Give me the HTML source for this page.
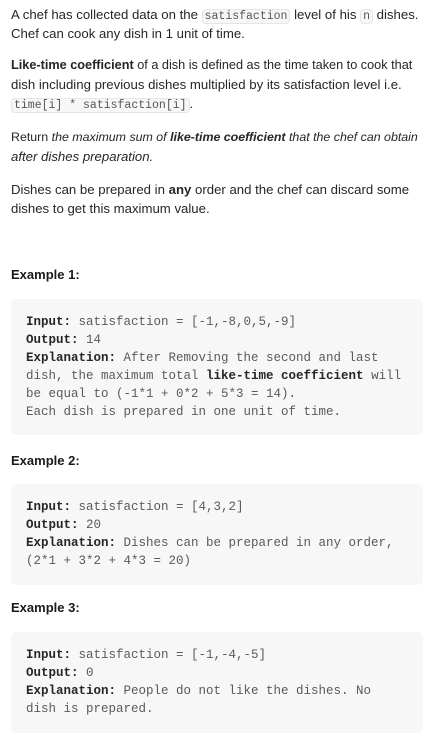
<!DOCTYPE html>
<html><head><meta charset="utf-8"><style>
body{margin:0;width:433px;height:737px;background:#fff;position:relative;overflow:hidden;font-family:"Liberation Sans",sans-serif;font-size:13.2px;color:#262626}
.t{position:absolute;left:11px;white-space:nowrap;line-height:19px}
code{font-family:"Liberation Mono",monospace;font-size:11.5px;background:#f7f7f8;border:1px solid #e5e5e5;border-radius:4px;padding:0 2px;color:#555}
.h{position:absolute;left:11px;font-weight:bold;font-size:13px;color:#1a1a1a}
.box{position:absolute;left:11px;width:412px;background:#f7f7f7;border-radius:6px}
.m{position:absolute;left:26px;font-family:"Liberation Mono",monospace;font-size:12.5px;line-height:18px;color:#5a5a5a;white-space:pre}
.m b{color:#262626}
</style></head><body>
<div class="t" style="top:5px">A chef has collected data on the <code>satisfaction</code> level of his <code>n</code> dishes.</div>
<div class="t" style="top:24px">Chef can cook any dish in 1 unit of time.</div>
<div class="t" style="top:56px;font-size:12.7px"><b>Like-time coefficient</b> of a dish is defined as the time taken to cook that</div>
<div class="t" style="top:75px">dish including previous dishes multiplied by its satisfaction level i.e.</div>
<div class="t" style="top:94px"><code>time[i] * satisfaction[i]</code>.</div>
<div class="t" style="top:128px;font-size:12.4px">Return <i>the maximum sum of <b>like-time coefficient</b> that the chef can obtain</i></div>
<div class="t" style="top:147px"><i>after dishes preparation.</i></div>
<div class="t" style="top:180px">Dishes can be prepared in <b>any</b> order and the chef can discard some</div>
<div class="t" style="top:199px">dishes to get this maximum value.</div>

<div class="h" style="top:267px">Example 1:</div>
<div class="box" style="top:299px;height:136px"></div>
<div class="m" style="top:313px"><b>Input:</b> satisfaction = [-1,-8,0,5,-9]
<b>Output:</b> 14
<b>Explanation:</b> After Removing the second and last
dish, the maximum total <b>like-time coefficient</b> will
be equal to (-1*1 + 0*2 + 5*3 = 14).
Each dish is prepared in one unit of time.</div>

<div class="h" style="top:453px">Example 2:</div>
<div class="box" style="top:484px;height:101px"></div>
<div class="m" style="top:498px"><b>Input:</b> satisfaction = [4,3,2]
<b>Output:</b> 20
<b>Explanation:</b> Dishes can be prepared in any order,
(2*1 + 3*2 + 4*3 = 20)</div>

<div class="h" style="top:600px">Example 3:</div>
<div class="box" style="top:632px;height:101px"></div>
<div class="m" style="top:646px"><b>Input:</b> satisfaction = [-1,-4,-5]
<b>Output:</b> 0
<b>Explanation:</b> People do not like the dishes. No
dish is prepared.</div>
</body></html>
